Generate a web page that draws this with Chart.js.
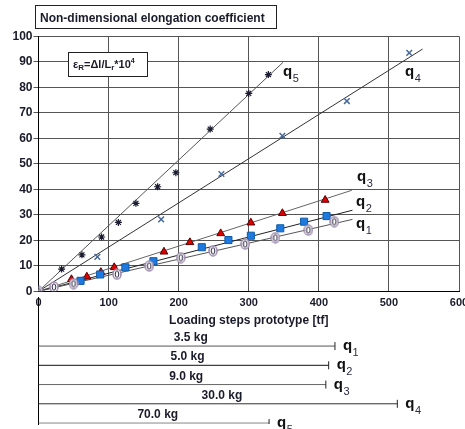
<html lang="en">
<head>
  <meta charset="UTF-8" />
  <title>Elongation coefficient</title>
  <script src="https://cdn.jsdelivr.net/npm/chart.js"></script>
  <style>
    body { margin: 0; width: 465px; height: 429px; overflow: hidden; background: #fff; position: relative; }
    #wrapMain { position: absolute; left: 0; top: 0; width: 475px; height: 330px; }
    #wrapBars { position: absolute; left: 0; top: 292px; width: 475px; height: 137px; }
  </style>
</head>
<body>
  <div id="wrapMain"><canvas id="main"></canvas></div>
  <div id="wrapBars"><canvas id="bars"></canvas></div>

  <script>
    // measured points, loading step [tf] vs elongation coefficient
    const q1X = [0, 22, 50, 112, 158, 203, 249, 295, 338, 385, 422];
    const q1Y = [0, 1.7, 3.0, 6.7, 9.9, 13.2, 15.9, 18.5, 21.0, 24.0, 27.3];
    const q2X = [60, 88, 124, 164, 233, 271, 303, 345, 379, 411];
    const q2Y = [4.1, 6.6, 9.4, 11.8, 17.3, 20.1, 21.8, 24.7, 27.3, 29.5];
    const q3X = [47, 69, 89, 108, 179, 216, 260, 303, 348, 409];
    const q3Y = [4.7, 5.7, 7.5, 9.4, 15.5, 19.2, 22.7, 26.9, 30.6, 35.8];
    const q4X = [84, 175, 261, 348, 440, 529];
    const q4Y = [13.5, 28.2, 46, 61, 74.6, 93.5];
    const q5X = [0, 33, 62, 90, 114, 139, 170, 196, 245, 300, 328];
    const q5Y = [0, 8.7, 14.3, 21.3, 27, 34.5, 41, 46.5, 63.6, 77.6, 85];

    // trend lines from the origin
    const fitEndX = [448, 448, 447, 548, 349];
    const fitEndY = [28.2, 31.8, 39.6, 95, 89.8];

    // loading range of each model and its mass
    const rangeEnd = [423, 414, 410, 512, 329];
    const massLabels = ['3.5 kg', '5.0 kg', '9.0 kg', '30.0 kg', '70.0 kg'];
    const subs = ['1', '2', '3', '4', '5'];

    const xTicks = [0, 100, 200, 300, 400, 500, 600];
    const yTicks = [0, 10, 20, 30, 40, 50, 60, 70, 80, 90, 100];

    const FONT = '"Liberation Sans", Arial, sans-serif';

    function zeroMarker() {
      const c = document.createElement('canvas');
      c.width = 10; c.height = 12;
      const g = c.getContext('2d');
      g.lineWidth = 1.6; g.strokeStyle = '#a08cb0'; g.fillStyle = '#fff';
      g.beginPath(); g.ellipse(5, 6, 4, 5, 0, 0, Math.PI * 2); g.fill(); g.stroke();
      g.lineWidth = 1; g.strokeStyle = '#2a2a40';
      g.beginPath(); g.ellipse(5, 6, 1.8, 3.2, 0, 0, Math.PI * 2); g.stroke();
      return c;
    }

    const pts = (xs, ys) => xs.map((x, i) => ({ x, y: ys[i] }));

    const markers = [
      { pointStyle: zeroMarker(), pointRadius: 5, backgroundColor: '#fff', borderColor: '#a08cb0', pointBorderWidth: 1 },
      { pointStyle: 'rect', pointRadius: 5, backgroundColor: '#1f7ae0', borderColor: '#0f5aa8', pointBorderWidth: 1 },
      { pointStyle: 'triangle', pointRadius: 4.5, backgroundColor: '#e00000', borderColor: '#500', pointBorderWidth: 1 },
      { pointStyle: 'crossRot', pointRadius: 4, backgroundColor: '#46689a', borderColor: '#46689a', pointBorderWidth: 1.5 },
      { pointStyle: 'star', pointRadius: 3.5, backgroundColor: '#1a1a30', borderColor: '#1a1a30', pointBorderWidth: 1.2 }
    ];
    const lineColors = ['#555', '#222', '#666', '#333', '#555'];
    const seriesX = [q1X, q2X, q3X, q4X, q5X];
    const seriesY = [q1Y, q2Y, q3Y, q4Y, q5Y];

    const datasets = [];
    for (let i = 0; i < 5; i++) {
      datasets.push({
        data: [{ x: 0, y: 0 }, { x: fitEndX[i], y: fitEndY[i] }],
        showLine: true, pointRadius: 0, borderColor: lineColors[i], borderWidth: 1, order: 10
      });
      datasets.push(Object.assign({
        data: pts(seriesX[i], seriesY[i]), showLine: false, order: 1
      }, markers[i]));
    }

    // draws q with a subscript
    function qLabel(ctx, x, y, sub) {
      ctx.save();
      ctx.textBaseline = 'alphabetic';
      ctx.textAlign = 'left';
      ctx.fillStyle = '#111';
      ctx.font = 'bold 15px ' + FONT;
      ctx.fillText('q', x, y);
      const w = ctx.measureText('q').width;
      ctx.font = '11px ' + FONT;
      ctx.fillStyle = '#2b2b45';
      ctx.fillText(sub, x + w + 0.5, y + 6);
      ctx.restore();
    }

    const qLabelAt = [[453, 24.8], [453, 33.4], [454.5, 43.3], [523, 84.4], [349, 84.4]];

    const mainNotes = {
      id: 'mainNotes',
      afterDraw(chart) {
        const ctx = chart.ctx;
        const xs = chart.scales.x, ys = chart.scales.y;
        ctx.save();
        // title box
        ctx.fillStyle = '#fff';
        ctx.strokeStyle = '#222';
        ctx.lineWidth = 1;
        ctx.fillRect(35.5, 5.5, 241, 23);
        ctx.strokeRect(35.5, 5.5, 241, 23);
        ctx.fillStyle = '#1a1a2a';
        ctx.font = 'bold 12px ' + FONT;
        ctx.textBaseline = 'alphabetic';
        ctx.fillText('Non-dimensional elongation coefficient', 40, 22);

        // formula box
        ctx.fillStyle = '#fff';
        ctx.fillRect(68.5, 52.5, 79, 24);
        ctx.strokeRect(68.5, 52.5, 79, 24);
        ctx.fillStyle = '#1a1a2a';
        let x = 73;
        const base = 68;
        const parts = [['ε', 0, 11], ['R', 2, 8], ['=Δl/L', 0, 11], ['r', 2, 8], ['*10', 0, 11], ['4', -5, 7]];
        parts.forEach(([t, dy, size]) => {
          ctx.font = 'bold ' + size + 'px ' + FONT;
          ctx.fillText(t, x, base + dy);
          x += ctx.measureText(t).width;
        });
        ctx.restore();

        qLabelAt.forEach((p, i) => {
          qLabel(ctx, xs.getPixelForValue(p[0]), ys.getPixelForValue(p[1]), subs[i]);
        });
      }
    };

    new Chart(document.getElementById('main'), {
      type: 'scatter',
      data: { datasets },
      options: {
        responsive: true,
        maintainAspectRatio: false,
        animation: false,
        events: [],
        layout: { padding: { top: 36.3, right: 16, left: 0, bottom: 0 } },
        plugins: { legend: { display: false }, tooltip: { enabled: false } },
        scales: {
          x: {
            type: 'linear', min: 0, max: 600,
            afterBuildTicks: s => { s.ticks = xTicks.map(v => ({ value: v })); },
            afterFit: s => { s.height = 38.7; },
            ticks: { color: '#1a1a2a', font: { family: FONT, size: 11, weight: 'bold' }, padding: 5, maxRotation: 0 },
            grid: { color: '#555', drawTicks: false },
            border: { color: '#000' },
            title: {
              display: true, text: 'Loading steps prototype [tf]', color: '#1a1a2a',
              font: { family: FONT, size: 12, weight: 'bold' }, padding: { top: 0, bottom: 2 }
            }
          },
          y: {
            type: 'linear', min: 0, max: 100,
            afterBuildTicks: s => { s.ticks = yTicks.map(v => ({ value: v })); },
            afterFit: s => { s.width = 38.5; },
            ticks: { color: '#1a1a2a', font: { family: FONT, size: 12, weight: 'bold' }, padding: 1 },
            grid: { color: '#555', tickLength: 5 },
            border: { color: '#000' }
          }
        }
      },
      plugins: [mainNotes]
    });

    // loading ranges below the chart
    const barColors = ['#555', '#111', '#666', '#333', '#888'];
    const barSets = rangeEnd.map((end, i) => ({
      data: [{ x: 0, y: i + 1 }, { x: end, y: i + 1 }],
      showLine: true,
      borderColor: barColors[i],
      borderWidth: 1,
      pointStyle: 'line',
      rotation: 90,
      pointRadius: c => (c.dataIndex === 1 ? 4 : 0),
      pointBorderColor: '#222',
      pointBorderWidth: 1
    }));

    const barNotes = {
      id: 'barNotes',
      afterDraw(chart) {
        const ctx = chart.ctx;
        const xs = chart.scales.x, ys = chart.scales.y;
        rangeEnd.forEach((end, i) => {
          const y = ys.getPixelForValue(i + 1);
          const x0 = xs.getPixelForValue(0), x1 = xs.getPixelForValue(end);
          ctx.save();
          ctx.font = 'bold 12px ' + FONT;
          ctx.fillStyle = '#1a1a2a';
          ctx.textAlign = 'center';
          ctx.textBaseline = 'alphabetic';
          ctx.fillText(massLabels[i], (x0 + x1) / 2 + 4, y - 5);
          ctx.restore();
          qLabel(ctx, x1 + 8, y + 4, subs[i]);
        });
      }
    };

    new Chart(document.getElementById('bars'), {
      type: 'scatter',
      data: { datasets: barSets },
      options: {
        responsive: true,
        maintainAspectRatio: false,
        animation: false,
        events: [],
        layout: { padding: { top: 0, right: 16, left: 0, bottom: 0 } },
        plugins: { legend: { display: false }, tooltip: { enabled: false } },
        scales: {
          x: { type: 'linear', min: 0, max: 600, display: false },
          y: {
            type: 'linear', min: -1.55, max: 5.05, reverse: true,
            afterFit: s => { s.width = 38.5; },
            ticks: { display: false },
            grid: { display: false },
            border: { display: true, color: '#000' }
          }
        }
      },
      plugins: [barNotes]
    });
  </script>
</body>
</html>
